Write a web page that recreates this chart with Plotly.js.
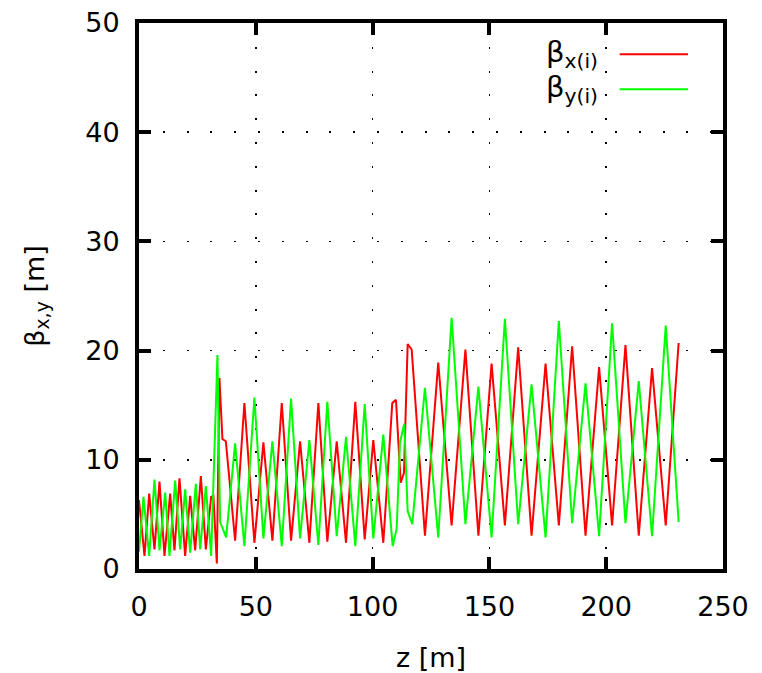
<!DOCTYPE html>
<html>
<head>
<meta charset="utf-8">
<script src="https://cdn.plot.ly/plotly-3.0.1.min.js"></script>
<style>
html,body{margin:0;padding:0;background:#fff;}
#chart{width:762px;height:673px;}
</style>
</head>
<body>
<div id="chart"></div>
<script>
// beta_x(i) vertices
const zRed = [0, 2.35, 4.36, 6.63, 8.77, 10.91, 13.34, 15.18, 17.32, 19.76, 21.90, 24.04, 26.48, 28.61, 30.88, 31.86, 33.32, 34.43, 35.71, 37.17, 41.15, 45.12, 49.40, 53.25, 57.10, 61.12, 65.10, 68.95, 72.93, 76.78, 80.62, 84.64, 88.62, 92.60, 96.62, 100.30, 104.58, 108.43, 110.01, 112.02, 113.43, 115.01, 116.72, 122.41, 128.10, 133.83, 139.73, 145.29, 150.94, 156.63, 162.32, 168.05, 174.04, 179.73, 185.42, 191.15, 196.96, 202.52, 208.25, 213.94, 219.63, 225.49, 231.01];
const betaX = [6.3, 1.2, 6.9, 1.8, 8.0, 1.2, 6.9, 1.7, 8.3, 1.2, 6.7, 1.7, 8.5, 1.8, 6.6, 6.7, 0.5, 17.5, 11.9, 11.7, 2.6, 15.2, 2.4, 11.6, 2.6, 15.2, 2.6, 11.7, 2.4, 15.2, 2.5, 11.7, 2.4, 15.3, 2.7, 11.8, 2.4, 15.2, 15.5, 7.9, 8.8, 20.6, 20.1, 3.05, 18.9, 4.0, 20.1, 3.05, 18.8, 4.0, 20.3, 3.05, 18.8, 4.0, 20.4, 3.05, 18.5, 4.0, 20.5, 3.05, 18.4, 4.0, 20.7];

// beta_y(i) vertices
const zGreen = [0, 1.92, 4.36, 6.63, 8.77, 11.21, 13.05, 15.48, 17.62, 19.76, 21.90, 24.34, 26.18, 28.61, 30.88, 33.58, 34.73, 37.30, 41.15, 45.12, 49.40, 53.25, 57.10, 61.12, 65.10, 68.95, 72.93, 76.78, 80.62, 84.64, 88.62, 92.60, 96.62, 100.30, 104.58, 108.60, 110.31, 111.72, 113.56, 115.01, 116.98, 122.41, 128.10, 133.83, 139.73, 145.29, 150.94, 156.63, 162.32, 168.05, 174.04, 179.73, 185.42, 191.15, 196.96, 202.52, 208.25, 213.94, 219.63, 225.49, 231.01];
const betaY = [1.6, 6.6, 1.2, 8.2, 1.7, 7.0, 1.2, 8.1, 1.8, 7.3, 1.5, 7.8, 1.8, 7.6, 1.2, 19.6, 4.3, 2.9, 11.5, 2.1, 15.7, 2.8, 11.7, 2.1, 15.6, 2.8, 11.8, 2.2, 15.3, 3.0, 12.1, 2.1, 15.1, 2.8, 12.3, 2.1, 3.7, 11.6, 13.3, 5.3, 4.1, 16.6, 2.9, 23.0, 4.1, 16.7, 2.9, 22.9, 4.1, 16.9, 2.9, 22.7, 4.2, 17.0, 3.0, 22.5, 4.2, 17.2, 3.0, 22.3, 4.3];

const seriesNames = ['β<sub>x(i)</sub>', 'β<sub>y(i)</sub>'];
const seriesColors = ['#ff0000', '#00ff00'];
const xTicks = [0, 50, 100, 150, 200, 250];
const yTicks = [0, 10, 20, 30, 40, 50];

const FONT = '"DejaVu Sans", Verdana, sans-serif';
const FS = 27;

const traces = [
  {x: zRed, y: betaX, name: seriesNames[0], type: 'scatter', mode: 'lines',
   line: {color: seriesColors[0], width: 2}, showlegend: false},
  {x: zGreen, y: betaY, name: seriesNames[1], type: 'scatter', mode: 'lines',
   line: {color: seriesColors[1], width: 2}, showlegend: false}
];

const axisCommon = {
  showline: true, linecolor: '#000', linewidth: 4, mirror: 'ticks',
  ticks: 'inside', ticklen: 12, tickwidth: 4, tickcolor: '#000',
  showgrid: true, gridcolor: '#000', gridwidth: 1.5, griddash: '2px,21.8px',
  zeroline: false, tickfont: {family: FONT, size: FS, color: '#000'}
};

// legend drawn gnuplot-style: text, then line sample to its right
const legY = [0.9427, 0.8787];
const annotations = seriesNames.map((n, i) => ({
  xref: 'paper', yref: 'paper', x: 0.789, y: legY[i], xanchor: 'right', yanchor: 'middle',
  text: n, showarrow: false, font: {family: FONT, size: 29, color: '#000'}
}));
const shapes = seriesColors.map((c, i) => ({
  type: 'line', xref: 'paper', yref: 'paper', x0: 0.823, x1: 0.940, y0: legY[i], y1: legY[i],
  line: {color: c, width: 2}
}));

const layout = {
  width: 762, height: 673,
  margin: {l: 139, r: 39, t: 23, b: 104},
  paper_bgcolor: '#fff', plot_bgcolor: '#fff',
  font: {family: FONT, color: '#000'},
  xaxis: Object.assign({}, axisCommon, {
    range: [0, 250], tickvals: xTicks, ticktext: xTicks.map(String), ticklabelstandoff: 11,
    title: {text: 'z [m]', font: {family: FONT, size: FS, color: '#000'}, standoff: 28}
  }),
  yaxis: Object.assign({}, axisCommon, {
    range: [0, 50], tickvals: yTicks, ticktext: yTicks.map(String), ticklabelstandoff: 10,
    title: {text: 'β<sub>x,y</sub> [m]', font: {family: FONT, size: FS, color: '#000'}, standoff: 34}
  }),
  annotations: annotations,
  shapes: shapes,
  showlegend: false
};

Plotly.newPlot('chart', traces, layout, {displayModeBar: false, staticPlot: true});
</script>
</body>
</html>
